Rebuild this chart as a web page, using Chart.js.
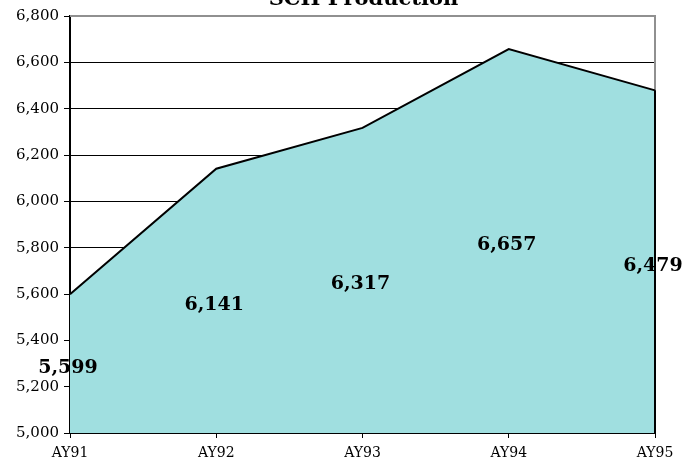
<!DOCTYPE html>
<html>
<head>
<meta charset="utf-8">
<script src="https://cdn.jsdelivr.net/npm/chart.js@4"></script>
<style>
  body { margin: 0; background: #fff; }
  #wrap { width: 683px; height: 469px; }
</style>
</head>
<body>
<div id="wrap"><canvas id="schChart" width="683" height="469"></canvas></div>
<script>
const years = ['AY91', 'AY92', 'AY93', 'AY94', 'AY95'];
const schValues = [5599, 6141, 6317, 6657, 6479];
const yMin = 5000;
const yMax = 6800;
const yStep = 200;

const fmt = v => v.toLocaleString('en-US');

// labels sit halfway down the filled area, like the original
const midLabels = {
  id: 'midLabels',
  afterDatasetsDraw(chart) {
    const ctx = chart.ctx;
    const meta = chart.getDatasetMeta(0);
    const bottom = chart.chartArea.bottom;
    ctx.save();
    // black outline down the right edge of the area
    const last = meta.data[meta.data.length - 1];
    ctx.strokeStyle = '#000';
    ctx.lineWidth = 2;
    ctx.beginPath();
    ctx.moveTo(last.x, last.y);
    ctx.lineTo(last.x, bottom);
    ctx.stroke();

    ctx.font = 'bold 19px "DejaVu Serif", serif';
    ctx.fillStyle = '#000';
    ctx.textAlign = 'center';
    ctx.textBaseline = 'middle';
    meta.data.forEach((pt, i) => {
      ctx.fillText(fmt(schValues[i]), pt.x - 2, (pt.y + bottom) / 2 + 4);
    });
    ctx.restore();
  }
};

const frame = {
  id: 'frame',
  beforeDatasetsDraw(chart) {
    const { ctx, chartArea: a } = chart;
    ctx.save();
    ctx.strokeStyle = '#909090';
    ctx.lineWidth = 2;
    ctx.beginPath();
    ctx.moveTo(a.left, a.top);
    ctx.lineTo(a.right, a.top);
    ctx.lineTo(a.right, a.bottom);
    ctx.stroke();
    ctx.restore();
  },
  afterDraw(chart) {
    const ctx = chart.ctx;
    ctx.save();
    ctx.font = 'bold 21px "DejaVu Serif", serif';
    ctx.fillStyle = '#000';
    ctx.textAlign = 'center';
    ctx.textBaseline = 'alphabetic';
    ctx.fillText('SCH Production', (chart.chartArea.left + chart.chartArea.right) / 2 + 1, 5);
    ctx.restore();
  }
};

new Chart(document.getElementById('schChart').getContext('2d'), {
  type: 'line',
  data: {
    labels: years,
    datasets: [{
      label: 'SCH',
      data: schValues,
      borderColor: '#000',
      borderWidth: 2,
      backgroundColor: '#a0dfe0',
      fill: 'start',
      tension: 0,
      pointRadius: 0
    }]
  },
  options: {
    responsive: false,
    animation: false,
    layout: { padding: { top: 16, right: 28, left: 0, bottom: 0 } },
    plugins: {
      legend: { display: false },
      tooltip: { enabled: false }
    },
    scales: {
      x: {
        offset: false,
        grid: { drawOnChartArea: false, color: '#000', tickLength: 5 },
        border: { color: '#000', width: 2 },
        ticks: { color: '#000', font: { family: '"DejaVu Serif", serif', size: 14 }, padding: 7, maxRotation: 0 },
        afterFit: s => { s.height = 36; }
      },
      y: {
        min: yMin,
        max: yMax,
        grid: {
          color: ctx => ctx.tick && ctx.tick.value === yMax ? 'rgba(0,0,0,0)' : '#000',
          lineWidth: 1,
          tickLength: 6,
          tickColor: '#000'
        },
        border: { color: '#000', width: 2 },
        ticks: {
          stepSize: yStep,
          color: '#000',
          font: { family: '"DejaVu Serif", serif', size: 15 },
          padding: 5,
          callback: v => fmt(v)
        },
        afterFit: s => { s.width = 70; }
      }
    }
  },
  plugins: [frame, midLabels]
});
</script>
</body>
</html>
